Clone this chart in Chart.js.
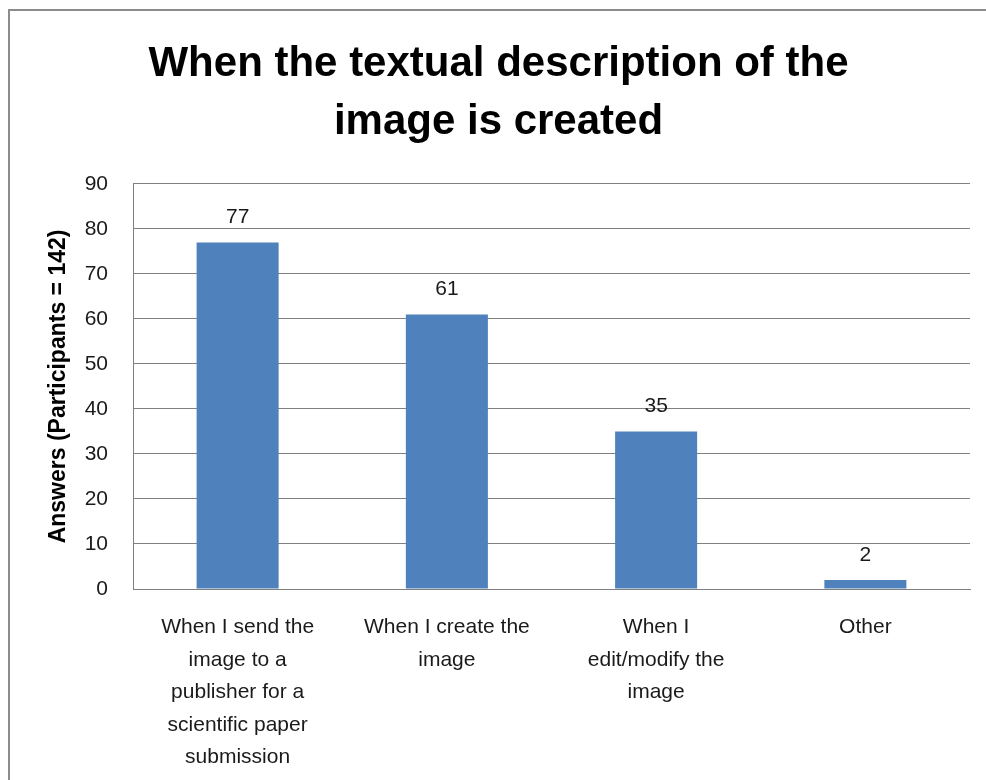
<!DOCTYPE html>
<html><head><meta charset="utf-8">
<script src="https://cdn.jsdelivr.net/npm/chart.js@4"></script>
<style>
html,body{margin:0;padding:0;background:#fff;overflow:hidden}
#wrap{position:relative;width:986px;height:780px;background:#fff}
#frame{position:absolute;left:8px;top:9px;right:-10px;bottom:-10px;border-left:2px solid #8c8c8c;border-top:2px solid #8c8c8c;}
canvas{position:absolute;left:0;top:0}
</style></head>
<body><div id="wrap"><div id="frame"></div><canvas id="c" width="986" height="780"></canvas></div>
<script>
const titleLines = ["When the textual description of the", "image is created"];
const categories = [
  ["When I send the", "image to a", "publisher for a", "scientific paper", "submission"],
  ["When I create the", "image"],
  ["When I", "edit/modify the", "image"],
  ["Other"]
];
const answers = [77, 61, 35, 2];
const yAxisTitle = "Answers (Participants = 142)";
const yMin = 0, yMax = 90, yStep = 10;

const FONT = "'Liberation Sans', Arial, sans-serif";

const dataLabels = {
  id: 'dataLabels',
  afterDatasetsDraw(chart) {
    const ctx = chart.ctx;
    const meta = chart.getDatasetMeta(0);
    ctx.save();
    ctx.font = "21px " + FONT;
    ctx.fillStyle = "#1a1a1a";
    ctx.textAlign = "center";
    ctx.textBaseline = "middle";
    meta.data.forEach((el, i) => {
      ctx.fillText(String(answers[i]), el.x, el.y - 25);
    });
    ctx.restore();
  }
};

new Chart(document.getElementById('c'), {
  type: 'bar',
  data: {
    labels: categories,
    datasets: [{
      data: answers,
      backgroundColor: '#4F81BD',
      borderWidth: 0,
      categoryPercentage: 1,
      barPercentage: 0.392
    }]
  },
  options: {
    responsive: false,
    animation: false,
    devicePixelRatio: 1,
    layout: { padding: { left: 27, right: 16, top: 0, bottom: 11 } },
    plugins: {
      legend: { display: false },
      tooltip: { enabled: false },
      title: {
        display: true,
        text: titleLines,
        color: '#000',
        font: { family: FONT, size: 42, weight: 'bold', lineHeight: 1.38 },
        padding: { top: 35, bottom: 33 }
      }
    },
    scales: {
      x: {
        grid: { display: false },
        border: { display: true, color: '#808080', width: 1 },
        afterFit(scale) { scale.height = 180; },
        ticks: {
          color: '#1a1a1a',
          font: { family: FONT, size: 21, lineHeight: 1.55 },
          maxRotation: 0, minRotation: 0, autoSkip: false, padding: 14
        }
      },
      y: {
        min: yMin, max: yMax,
        grid: { color: '#808080', lineWidth: 1, drawTicks: false },
        border: { display: true, color: '#808080', width: 1 },
        afterFit(scale) { scale.width = 106; },
        ticks: {
          stepSize: yStep,
          color: '#1a1a1a',
          font: { family: FONT, size: 21 },
          padding: 25
        },
        title: {
          display: true,
          text: yAxisTitle,
          color: '#000',
          font: { family: FONT, size: 23, weight: 'bold' },
          padding: { top: 18, bottom: 0 }
        }
      }
    }
  },
  plugins: [dataLabels]
});
</script>
</body></html>
